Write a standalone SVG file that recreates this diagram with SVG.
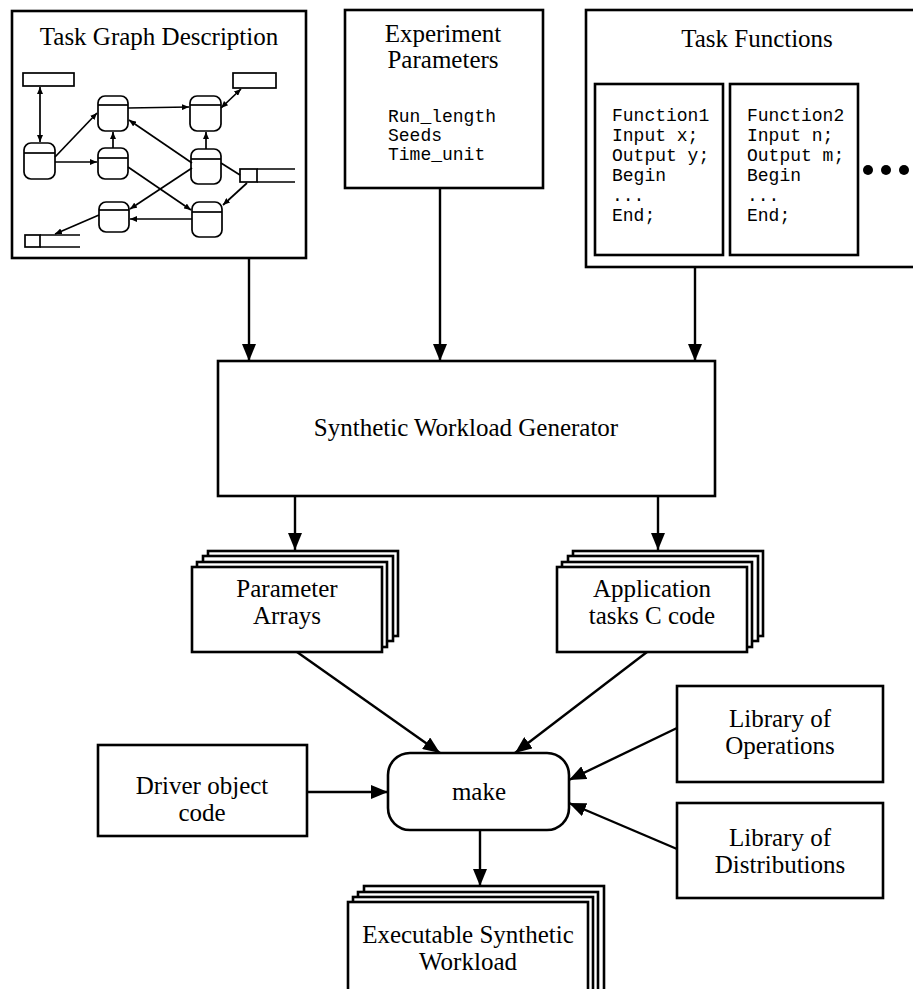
<svg xmlns="http://www.w3.org/2000/svg" width="913" height="989" viewBox="0 0 913 989">
<style>
.box{fill:#fff;stroke:#000;stroke-width:2.6}
.thin{fill:#fff;stroke:#000;stroke-width:1.7}
.gl{fill:none;stroke:#000;stroke-width:1.7}
.ln{fill:none;stroke:#000;stroke-width:2.4}
.t{font-family:"Liberation Serif","Times New Roman",serif;font-size:25px;fill:#000;text-anchor:middle}
.m{font-family:"Liberation Mono","Courier New",monospace;font-size:18px;fill:#000}
</style>
<defs>
<marker id="ah" markerUnits="userSpaceOnUse" markerWidth="18" markerHeight="14" refX="17" refY="7" orient="auto">
<path d="M0,0 L17,7 L0,14 z" fill="#000"/>
</marker>
<marker id="sa" markerUnits="userSpaceOnUse" markerWidth="8" markerHeight="6" refX="7" refY="3" orient="auto">
<path d="M0,0 L7,3 L0,6 z" fill="#000"/>
</marker>
<marker id="sas" markerUnits="userSpaceOnUse" markerWidth="8" markerHeight="6" refX="0" refY="3" orient="auto">
<path d="M7,0 L0,3 L7,6 z" fill="#000"/>
</marker>
</defs>
<rect width="913" height="989" fill="#fff"/>

<g id="task-graph-description">
<rect class="box" x="12" y="11" width="294" height="247"/>
<text class="t" x="159" y="45">Task Graph Description</text>
<rect class="thin" x="23" y="73" width="51" height="13"/>
<rect class="thin" x="233" y="73" width="43" height="15"/>
<g>
<rect class="thin" x="24" y="143" width="31" height="36" rx="7"/><line class="gl" x1="24" y1="153" x2="55" y2="153"/>
<rect class="thin" x="98" y="96" width="30" height="35" rx="7"/><line class="gl" x1="98" y1="105" x2="128" y2="105"/>
<rect class="thin" x="98" y="148" width="30" height="31" rx="7"/><line class="gl" x1="98" y1="158" x2="128" y2="158"/>
<rect class="thin" x="99" y="202" width="30" height="30" rx="7"/><line class="gl" x1="99" y1="210" x2="129" y2="210"/>
<rect class="thin" x="190" y="96" width="31" height="35" rx="7"/><line class="gl" x1="190" y1="105" x2="221" y2="105"/>
<rect class="thin" x="191" y="149" width="30" height="35" rx="7"/><line class="gl" x1="191" y1="159" x2="221" y2="159"/>
<rect class="thin" x="192" y="202" width="30" height="35" rx="7"/><line class="gl" x1="192" y1="212" x2="222" y2="212"/>
</g>
<rect class="thin" x="240" y="169" width="17" height="13"/>
<path class="gl" d="M257,169 L295,169 M257,182 L295,182"/>
<rect class="thin" x="25" y="235" width="15" height="12"/>
<path class="gl" d="M40,235 L80,235 M40,247 L80,247"/>
<g>
<line class="gl" x1="40" y1="87" x2="40" y2="142" marker-start="url(#sas)" marker-end="url(#sa)"/>
<line class="gl" x1="55" y1="157" x2="97" y2="113" marker-end="url(#sa)"/>
<line class="gl" x1="55" y1="162" x2="97" y2="162" marker-end="url(#sa)"/>
<line class="gl" x1="113" y1="148" x2="113" y2="132" marker-end="url(#sa)"/>
<line class="gl" x1="128" y1="108" x2="189" y2="107" marker-end="url(#sa)"/>
<line class="gl" x1="192" y1="163" x2="129" y2="120" marker-end="url(#sa)"/>
<line class="gl" x1="206" y1="149" x2="206" y2="132" marker-end="url(#sa)"/>
<line class="gl" x1="221" y1="108" x2="241" y2="89" marker-start="url(#sas)" marker-end="url(#sa)"/>
<line class="gl" x1="221" y1="163" x2="240" y2="175"/>
<line class="gl" x1="247" y1="183" x2="223" y2="205" marker-end="url(#sa)"/>
<line class="gl" x1="128" y1="167" x2="191" y2="210" marker-end="url(#sa)"/>
<line class="gl" x1="192" y1="168" x2="130" y2="209" marker-end="url(#sa)"/>
<line class="gl" x1="192" y1="219" x2="130" y2="219" marker-end="url(#sa)"/>
<line class="gl" x1="99" y1="215" x2="55" y2="234" marker-end="url(#sa)"/>
</g>
</g>

<g id="experiment-parameters">
<rect class="box" x="345" y="10" width="198" height="178"/>
<text class="t" x="443" y="42">Experiment</text>
<text class="t" x="443" y="68">Parameters</text>
<text class="m" x="388" y="122">Run_length</text>
<text class="m" x="388" y="141">Seeds</text>
<text class="m" x="388" y="160">Time_unit</text>
</g>

<g id="task-functions">
<rect class="box" x="586" y="10" width="340" height="257"/>
<text class="t" x="757" y="47">Task Functions</text>
<rect class="box" x="595" y="84" width="128" height="171"/>
<text class="m" x="612" y="121">Function1</text>
<text class="m" x="612" y="141">Input x;</text>
<text class="m" x="612" y="161">Output y;</text>
<text class="m" x="612" y="181">Begin</text>
<text class="m" x="612" y="201">...</text>
<text class="m" x="612" y="221">End;</text>
<rect class="box" x="730" y="84" width="128" height="171"/>
<text class="m" x="747" y="121">Function2</text>
<text class="m" x="747" y="141">Input n;</text>
<text class="m" x="747" y="161">Output m;</text>
<text class="m" x="747" y="181">Begin</text>
<text class="m" x="747" y="201">...</text>
<text class="m" x="747" y="221">End;</text>
<circle cx="868" cy="170" r="5"/>
<circle cx="886" cy="170" r="5"/>
<circle cx="904" cy="170" r="5"/>
</g>

<g id="synthetic-workload-generator">
<rect class="box" x="218" y="361" width="497" height="135"/>
<text class="t" x="466" y="436">Synthetic Workload Generator</text>
</g>

<g id="parameter-arrays">
<rect class="box" x="208" y="551" width="190" height="85"/>
<rect class="box" x="203" y="556" width="190" height="85"/>
<rect class="box" x="197" y="562" width="190" height="85"/>
<rect class="box" x="192" y="567" width="190" height="85"/>
<text class="t" x="287" y="597">Parameter</text>
<text class="t" x="287" y="624">Arrays</text>
</g>

<g id="application-tasks">
<rect class="box" x="573" y="551" width="190" height="85"/>
<rect class="box" x="568" y="556" width="190" height="85"/>
<rect class="box" x="562" y="562" width="190" height="85"/>
<rect class="box" x="557" y="567" width="190" height="85"/>
<text class="t" x="652" y="597">Application</text>
<text class="t" x="652" y="624">tasks C code</text>
</g>

<g id="make">
<rect class="box" x="388" y="753" width="181" height="77" rx="22"/>
<text class="t" x="479" y="800">make</text>
</g>

<g id="driver-object-code">
<rect class="box" x="98" y="745" width="209" height="91"/>
<text class="t" x="202" y="794">Driver object</text>
<text class="t" x="202" y="821">code</text>
</g>

<g id="library-of-operations">
<rect class="box" x="677" y="686" width="206" height="96"/>
<text class="t" x="780" y="727">Library of</text>
<text class="t" x="780" y="754">Operations</text>
</g>

<g id="library-of-distributions">
<rect class="box" x="677" y="803" width="206" height="95"/>
<text class="t" x="780" y="846">Library of</text>
<text class="t" x="780" y="873">Distributions</text>
</g>

<g id="executable-synthetic-workload">
<rect class="box" x="364" y="886" width="240" height="120"/>
<rect class="box" x="358" y="892" width="240" height="120"/>
<rect class="box" x="353" y="897" width="240" height="120"/>
<rect class="box" x="348" y="902" width="240" height="120"/>
<text class="t" x="468" y="943">Executable Synthetic</text>
<text class="t" x="468" y="970">Workload</text>
</g>

<g id="connectors">
<line class="ln" x1="249" y1="258" x2="249" y2="361" marker-end="url(#ah)"/>
<line class="ln" x1="440" y1="188" x2="440" y2="361" marker-end="url(#ah)"/>
<line class="ln" x1="695" y1="267" x2="695" y2="361" marker-end="url(#ah)"/>
<line class="ln" x1="295" y1="496" x2="295" y2="550" marker-end="url(#ah)"/>
<line class="ln" x1="658" y1="496" x2="658" y2="550" marker-end="url(#ah)"/>
<line class="ln" x1="297" y1="652" x2="440" y2="753" marker-end="url(#ah)"/>
<line class="ln" x1="647" y1="652" x2="515" y2="753" marker-end="url(#ah)"/>
<line class="ln" x1="307" y1="792" x2="388" y2="792" marker-end="url(#ah)"/>
<line class="ln" x1="677" y1="728" x2="569" y2="780" marker-end="url(#ah)"/>
<line class="ln" x1="677" y1="849" x2="569" y2="803" marker-end="url(#ah)"/>
<line class="ln" x1="480" y1="830" x2="480" y2="886" marker-end="url(#ah)"/>
</g>
</svg>
